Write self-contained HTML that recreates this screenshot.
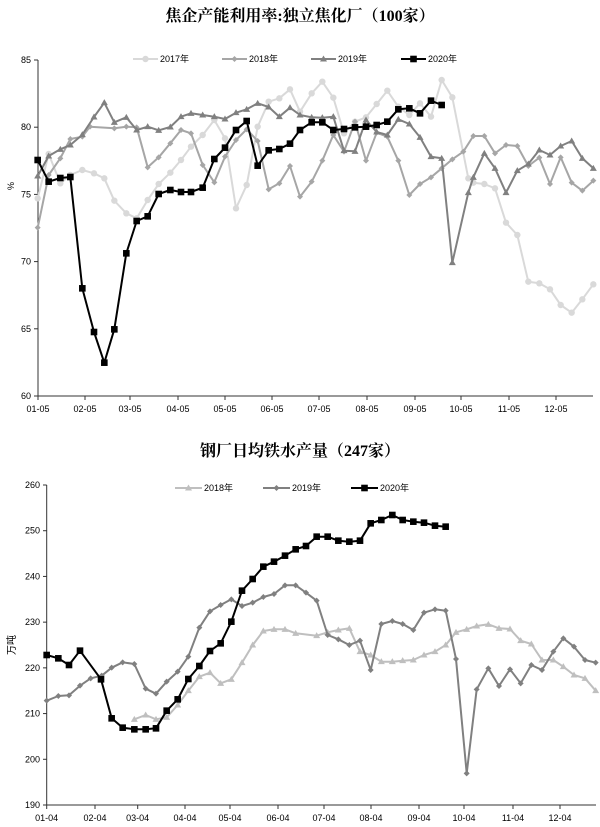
<!DOCTYPE html>
<html><head><meta charset="utf-8"><style>
body{margin:0;background:#fff;width:600px;height:827px;overflow:hidden}
svg{display:block}
text{font-family:"Liberation Sans","Noto Sans CJK SC",sans-serif}
</style></head><body>
<svg id="s" width="600" height="827" xmlns="http://www.w3.org/2000/svg">
<text x="300" y="21" text-anchor="middle" font-size="16" font-weight="bold" style="font-family:'Liberation Serif','Noto Serif CJK SC',serif">焦企产能利用率:独立焦化厂（100家）</text>
<text x="300" y="456" text-anchor="middle" font-size="16" font-weight="bold" style="font-family:'Liberation Serif','Noto Serif CJK SC',serif">钢厂日均铁水产量（247家）</text>
<g id="g"></g>
</svg>
<script>
var g=document.getElementById('g'),h='';
function L(x1,y1,x2,y2,c,w){h+='<line x1="'+x1+'" y1="'+y1+'" x2="'+x2+'" y2="'+y2+'" stroke="'+c+'" stroke-width="'+(w||1)+'"/>';}
function T(x,y,t,a,s){h+='<text x="'+x+'" y="'+y+'" font-size="'+(s||9)+'" text-anchor="'+(a||'start')+'">'+t+'</text>';}
function mk(x,y,m,c){
 if(m=='c')h+='<circle cx="'+x+'" cy="'+y+'" r="3.2" fill="'+c+'"/>';
 else if(m=='d')h+='<polygon points="'+x+','+(y-3)+' '+(x+3)+','+y+' '+x+','+(y+3)+' '+(x-3)+','+y+'" fill="'+c+'"/>';
 else if(m=='t')h+='<polygon points="'+x+','+(y-3.5)+' '+(x+3.5)+','+(y+2.5)+' '+(x-3.5)+','+(y+2.5)+'" fill="'+c+'"/>';
 else h+='<rect x="'+(x-3.3)+'" y="'+(y-3.3)+'" width="6.6" height="6.6" fill="'+c+'"/>';
}
function S(pts,c,m,w){
 var p=pts.map(function(q){return q[0].toFixed(1)+','+q[1].toFixed(1)}).join(' ');
 h+='<polyline points="'+p+'" fill="none" stroke="'+c+'" stroke-width="'+w+'" stroke-linejoin="round"/>';
 pts.forEach(function(q){mk(q[0],q[1],m,c)});
}
function Z(a,ox,oy){var r=[];for(var i=0;i<a.length;i+=2)r.push([ox+a[i]/3,oy+a[i+1]/3]);return r;}
// ---------- top chart ----------
var ax='#333';
L(38,60,38,396,ax);L(38,396,593,396,ax);
[85,80,75,70,65,60].forEach(function(v){var y=60+(85-v)*13.44;L(34,y,38,y,ax);T(31,y+3,v,'end');});
var tx=[38,85,130,178,225,272,319,367,415,461,509,556],tl=['01-05','02-05','03-05','04-05','05-05','06-05','07-05','08-05','09-05','10-05','11-05','12-05'];
tx.forEach(function(x,i){L(x,396,x,400,ax);T(x,412,tl[i],'middle');});
h+='<text transform="translate(14,186) rotate(-90)" font-size="9" text-anchor="middle">%</text>';
var c17='#d9d9d9',c18='#a6a6a6',c19='#808080',c20='#000';
var p17=Z([113,475,146,342,181,430,211,405,247,390,282,400,313,415,343,482,379,520,410,535,443,480,476,432,511,398,543,360,573,320,608,285,643,240,675,295,708,505,740,435,773,260,806,185,838,175,870,148,900,215],0,40)
 .concat(Z([35,160,67,125,100,173,132,280,165,245,198,232,230,192,262,152,295,200,328,225,360,190,393,230,425,120,457,172,505,415,520,428,553,432,585,445,618,548,652,585,685,725,718,730,750,748,782,795,815,818,847,778,880,733],300,40));
var p18=Z([113,563,146,405,181,355,211,297,247,290,270,260,343,265,379,260,410,262,443,382,476,352,511,310,543,270,573,280,608,375,643,427,675,350,708,300,740,268,773,303,806,448,838,430,870,378,900,470],0,40)
 .concat(Z([35,425,67,362,100,285,132,335,165,245,198,362,230,278,262,290,295,362,328,465,360,432,393,412,425,385,457,358,490,335,520,288,553,288,585,340,618,315,652,318,685,378,718,353,750,432,782,352,815,428,847,452,880,422],300,40));
var p19=Z([113,408,146,348,181,328,211,315,247,284,282,231,313,188,343,247,379,232,410,270,443,260,476,271,511,261,543,230,573,220,608,225,643,230,675,237,708,218,740,208,773,190,806,201,838,230,870,203,900,225],0,40)
 .concat(Z([35,232,67,233,100,230,132,332,165,334,198,240,230,276,262,285,295,238,328,252,360,292,393,350,425,355,457,668,505,458,520,412,553,340,585,385,618,458,652,392,685,372,718,330,750,345,782,318,815,303,847,355,880,385],300,40));
var p20=Z([113,360,146,425,181,414,211,411,247,745,282,876,313,968,343,868,379,640,410,543,443,529,476,462,511,450,543,456,573,456,608,443,643,357,675,323,708,270,740,243,773,377,806,331,838,327,870,311,900,270],0,40)
 .concat(Z([35,247,67,247,100,270,132,267,165,262,198,260,230,255,262,245,295,208,328,205,360,220,393,182,425,195],300,40));
S(p17,c17,'c',2);S(p18,c18,'d',2);S(p19,c19,'t',2);S(p20,c20,'s',2);
// legend top
[[133,c17,'c','2017年'],[222,c18,'d','2018年'],[311,c19,'t','2019年'],[401,c20,'s','2020年']].forEach(function(l){L(l[0],59,l[0]+25,59,l[1],2);mk(l[0]+12.5,59,l[2],l[1]);T(l[0]+27,62,l[3]);});
// ---------- bottom chart ----------
L(46.7,485,46.7,805,ax);L(46.7,805,596,805,ax);
[260,250,240,230,220,210,200,190].forEach(function(v){var y=485+(260-v)*320/70;L(43,y,46.7,y,ax);T(40,y+3,v,'end');});
var bx=[46.7,95,137.7,185,230,278,324,371,419,464,513,560],bl=['01-04','02-04','03-04','04-04','05-04','06-04','07-04','08-04','09-04','10-04','11-04','12-04'];
bx.forEach(function(x,i){L(x,805,x,809,ax);T(x,821,bl[i],'middle');});
h+='<text transform="translate(15,645) rotate(-90)" font-size="10" text-anchor="middle">万吨</text>';
var b18=Z([403,748,437,735,468,748,500,742,533,705,565,662,598,620,630,608,662,640,694,628,726,578,758,525,790,483,822,478,855,478,887,490],0,470)
 .concat(Z([50,497,83,487,115,480,148,475,180,545,212,555,244,575,277,575,308,572,340,570,372,555,405,545,437,525,468,487,500,478,530,468,565,463,597,475,630,477,662,512,694,522,726,570,760,570,790,590,822,615,855,625,887,662],300,470));
var b19=Z([140,692,175,678,207,676,240,647,272,625,305,617,335,593,368,577,403,582,437,656,468,671,500,635,533,605,565,560,598,473,630,424,662,405,694,388,726,408,758,398,790,381,822,372,855,346,887,346],0,470)
 .concat(Z([18,368,50,392,83,495,115,508,148,525,180,512,212,600,244,462,277,453,308,462,340,480,372,428,405,418,437,422,468,567,500,910,530,658,565,595,597,648,630,598,662,640,694,585,726,600,760,545,790,505,822,530,855,570,887,578],300,470));
var b20=Z([140,555,175,565,207,585,240,542,303,628,335,745,368,773,403,778,437,778,468,775,500,722,533,688,565,627,598,588,630,543,662,520,694,455,726,362,758,327,790,290,822,275,855,257,887,238],0,470)
 .concat(Z([18,228,50,200,83,200,115,212,148,215,180,212,212,160,244,150,277,135,308,150,340,155,372,158,405,167,437,170],300,470));
S(b18,'#bfbfbf','t',2);S(b19,c19,'d',2);S(b20,c20,'s',2);
[[175,'#bfbfbf','t','2018年'],[263,c19,'d','2019年'],[351,c20,'s','2020年']].forEach(function(l){L(l[0],488,l[0]+27,488,l[1],2);mk(l[0]+13.5,488,l[2],l[1]);T(l[0]+29,491,l[3]);});
g.innerHTML=h;
</script>
</body></html>
